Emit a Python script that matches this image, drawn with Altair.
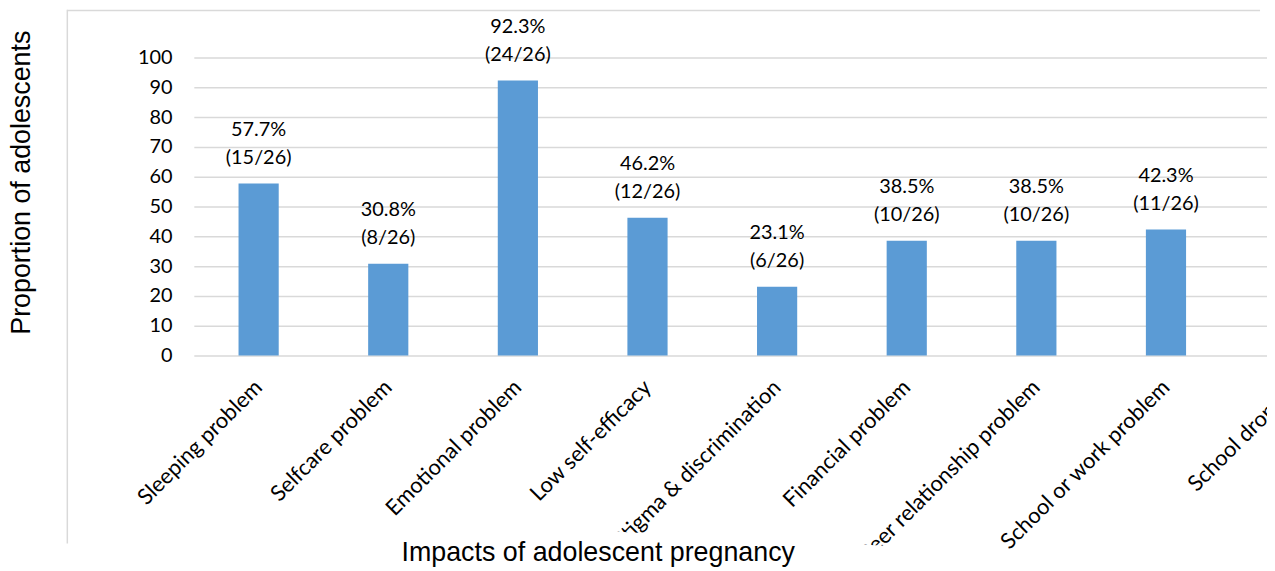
import altair as alt
import pandas as pd

categories = [
    "Sleeping problem",
    "Selfcare problem",
    "Emotional problem",
    "Low self-efficacy",
    "Stigma & discrimination",
    "Financial problem",
    "Peer relationship problem",
    "School or work problem",
    "School dropout",
]
# The last bar lies outside the visible frame of the reference, its value is not readable
values = [57.7, 30.8, 92.3, 46.2, 23.1, 38.5, 38.5, 42.3, None]
counts = [15, 8, 24, 12, 6, 10, 10, 11, None]
total = 26
y_ticks = [0, 10, 20, 30, 40, 50, 60, 70, 80, 90, 100]

labels = [
    f"{v}%\n({c}/{total})" if v is not None else None
    for v, c in zip(values, counts)
]
df = pd.DataFrame({"cat": categories, "val": values, "label": labels})

GRID = "#d9d9d9"
BAR = "#5B9BD5"

base = alt.Chart(df).encode(
    x=alt.X(
        "cat:N",
        sort=categories,
        scale=alt.Scale(domain=categories, range=[0, 1174],
                        paddingInner=0.69, paddingOuter=0.345),
        axis=alt.Axis(
            title=None, domain=False, ticks=False, labelAngle=-45,
            labelAlign="right", labelBaseline="middle", labelPadding=28,
            labelOffset=0, labelFont="Lato", labelFontSize=22,
            labelColor="black", labelLimit=1000, labelOverlap=False,
            labelBound=False, zindex=0,
        ),
    ),
    y=alt.Y(
        "val:Q",
        scale=alt.Scale(domain=[0, 100], nice=False),
        axis=alt.Axis(
            values=y_ticks, domain=False, ticks=False, grid=True,
            gridColor=GRID, gridWidth=1.5, labelFont="Lato", labelFontSize=20,
            labelColor="black", labelPadding=22, title=None, zindex=0,
        ),
    ),
)

bars = base.mark_bar(color=BAR)
texts = base.mark_text(
    font="Lato", fontSize=20, color="black", baseline="bottom",
    align="center", lineBreak="\n", lineHeight=28.5, dy=-44,
).encode(text="label:N")

one = pd.DataFrame({"t": ["Impacts of adolescent pregnancy"]})
one_y = pd.DataFrame({"t": ["Proportion of adolescents"]})

# white band that hides the start of the longest category labels (as in the reference)
mask = alt.Chart(one).mark_rule(color="white", strokeWidth=80, strokeCap="butt").encode(
    x=alt.value(365), y=alt.value(514), x2=alt.value(1085), y2=alt.value(552)
)
border_left = alt.Chart(one).mark_rule(color=GRID, strokeWidth=1.5).encode(
    x=alt.value(-127.3), y=alt.value(-48), y2=alt.value(489)
)
border_top = alt.Chart(one).mark_rule(color=GRID, strokeWidth=1.5).encode(
    x=alt.value(-127.3), x2=alt.value(1073), y=alt.value(-47.3)
)
xtitle = alt.Chart(one).mark_text(
    font="Liberation Sans", fontSize=27, color="black", align="center",
    baseline="alphabetic",
).encode(x=alt.value(407), y=alt.value(507), text="t:N")
ytitle = alt.Chart(one_y).mark_text(
    font="Liberation Sans", fontSize=27, color="black", align="center",
    baseline="alphabetic", angle=270,
).encode(x=alt.value(-165), y=alt.value(126), text="t:N")

chart = alt.layer(
    bars, texts, mask, border_left, border_top, xtitle, ytitle
).properties(
    width=1073, height=300,
    padding={"left": 187, "top": 48, "right": 7, "bottom": 215},
    autosize=alt.AutoSizeParams(type="none"),
).configure_view(stroke=None)

chart.save("out.html", embed_options={"renderer": "svg", "actions": False})
